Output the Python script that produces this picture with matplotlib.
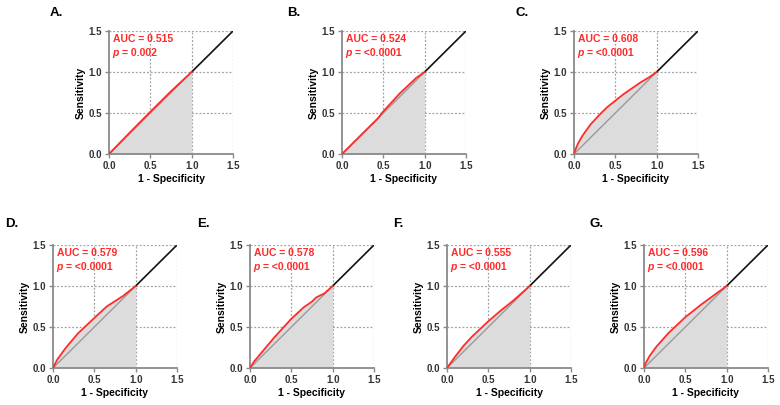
import matplotlib
matplotlib.use("Agg")
import matplotlib.pyplot as plt
import numpy as np

plt.rcParams['font.family'] = ['Liberation Sans', 'DejaVu Sans']

panels = ["A.", "B.", "C.", "D.", "E.", "F.", "G."]
auc_labels = ["0.515", "0.524", "0.608", "0.579", "0.578", "0.555", "0.596"]
p_labels = ["0.002", "<0.0001", "<0.0001", "<0.0001", "<0.0001", "<0.0001", "<0.0001"]

roc_A_x = [0, 0.25, 0.5, 0.75, 1.0]
roc_A_y = [0, 0.26, 0.515, 0.765, 1.0]
roc_B_x = [0, 0.2, 0.43, 0.5, 0.7, 0.9, 1.0]
roc_B_y = [0, 0.2, 0.43, 0.52, 0.74, 0.93, 1.0]
roc_C_x = [0, 0.02, 0.05, 0.1, 0.2, 0.3, 0.4, 0.5, 0.6, 0.7, 0.8, 0.9, 1.0]
roc_C_y = [0, 0.06, 0.13, 0.22, 0.36, 0.47, 0.57, 0.65, 0.73, 0.80, 0.87, 0.93, 1.0]
roc_D_x = [0, 0.05, 0.15, 0.3, 0.5, 0.65, 0.85, 1.0]
roc_D_y = [0, 0.10, 0.24, 0.42, 0.61, 0.75, 0.88, 1.0]
roc_E_x = [0, 0.05, 0.15, 0.3, 0.5, 0.65, 0.75, 0.8, 0.9, 1.0]
roc_E_y = [0, 0.08, 0.20, 0.38, 0.60, 0.74, 0.81, 0.86, 0.91, 1.0]
roc_F_x = [0, 0.1, 0.2, 0.3, 0.5, 0.65, 0.8, 1.0]
roc_F_y = [0, 0.14, 0.27, 0.38, 0.57, 0.70, 0.82, 1.0]
roc_G_x = [0, 0.02, 0.07, 0.15, 0.3, 0.5, 0.7, 0.85, 1.0]
roc_G_y = [0, 0.06, 0.15, 0.26, 0.43, 0.62, 0.78, 0.89, 1.0]

roc_x = [roc_A_x, roc_B_x, roc_C_x, roc_D_x, roc_E_x, roc_F_x, roc_G_x]
roc_y = [roc_A_y, roc_B_y, roc_C_y, roc_D_y, roc_E_y, roc_F_y, roc_G_y]

ticks = [0.0, 0.5, 1.0, 1.5]
tick_labels = ["0.0", "0.5", "1.0", "1.5"]

W, H = 780, 405
# axes pixel boxes (left, top), size 124x123
boxes = [(109, 31), (342, 31), (574, 31), (53, 245), (250, 245), (447, 245), (644, 245)]
# panel letter positions (left x, center y) in pixels
letter_pos = [(50, 13), (287, 13), (516, 13), (5, 224), (197, 224), (393, 224), (590, 224)]
aw, ah = 124, 123

fig = plt.figure(figsize=(W / 100, H / 100), dpi=100)

for i in range(7):
    l, t = boxes[i]
    ax = fig.add_axes([l / W, 1 - (t + ah) / H, aw / W, ah / H])
    ax.set_xlim(0, 1.5)
    ax.set_ylim(0, 1.5)
    for s in ['top', 'right']:
        ax.spines[s].set_visible(False)
    for s in ['left', 'bottom']:
        ax.spines[s].set_color('#8a8a8a')
        ax.spines[s].set_linewidth(1.3)
    ax.set_xticks(ticks)
    ax.set_yticks(ticks)
    ax.set_xticklabels(tick_labels, fontsize=7, fontweight='bold', color='#333333')
    ax.set_yticklabels(tick_labels, fontsize=7, fontweight='bold', color='#333333')
    ax.tick_params(direction='out', length=3, width=1.0, color='#8a8a8a', pad=2)
    for g in [0.5, 1.0, 1.5]:
        ax.axvline(g, color='#a0a0a0', lw=0.9, ls=(0, (1.5, 1.5)), zorder=1)
        ax.axhline(g, color='#a0a0a0', lw=0.9, ls=(0, (1.5, 1.5)), zorder=1)
    xs = np.array(roc_x[i])
    ys = np.array(roc_y[i])
    ax.fill_between(xs, 0, ys, color='#dcdcdc', lw=0, zorder=2)
    ax.plot([0, 1], [0, 1], color='#9a9a9a', lw=1.0, zorder=3)
    ax.plot([1, 1.5], [1, 1.5], color='#111111', lw=1.2, zorder=3)
    ax.plot(xs, ys, color='#ff2a2a', lw=1.3, zorder=4)
    ax.set_xlabel("1 - Specificity", fontsize=7.5, fontweight='bold', labelpad=2)
    ax.set_ylabel("Sensitivity", fontsize=7.5, fontweight='bold', labelpad=2)
    ax.text(0.03, 0.975, "AUC = " + auc_labels[i], transform=ax.transAxes, color='#ff2a2a',
            fontsize=7.5, fontweight='bold', va='top', ha='left')
    ax.annotate("p", xy=(0.03, 0.86), xycoords='axes fraction', color='#ff2a2a',
                fontsize=7.5, fontweight='bold', fontstyle='italic', va='top', ha='left')
    ax.annotate("= " + p_labels[i], xy=(0.03, 0.86), xycoords='axes fraction',
                xytext=(6.8, 0), textcoords='offset points', color='#ff2a2a',
                fontsize=7.5, fontweight='bold', va='top', ha='left')
    lx, ly = letter_pos[i]
    fig.text(lx / W, 1 - ly / H, panels[i], fontsize=9.5, fontweight='bold',
             va='center', ha='left')

fig.savefig("out.png", dpi=100)
